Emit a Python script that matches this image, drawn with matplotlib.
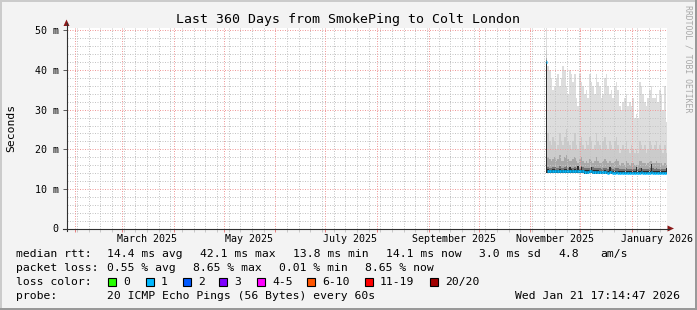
import datetime as dt
import matplotlib
matplotlib.use('Agg')
import matplotlib.pyplot as plt
from matplotlib.patches import Polygon, Rectangle
from matplotlib.lines import Line2D
import numpy as np

W, H = 697, 310
end = dt.datetime(2026, 1, 21, 17, 14, 47)
start = end - dt.timedelta(days=360)
data_start = dt.datetime(2025, 11, 10, 3, 0)

# daily smoke values (ms), Nov 10 2025 .. Jan 21 2026
ping_max = [52, 41, 40, 38, 35, 36, 38, 39, 36, 38,
            41, 40, 36, 34, 40, 39, 37, 39, 33, 31,
            39, 37, 36, 34, 35, 33, 39, 37, 36, 34,
            39, 37, 36, 33, 34, 38, 39, 36, 34, 35,
            33, 36, 37, 35, 31, 30, 32, 33, 34, 31,
            32, 31, 33, 28, 29, 28, 37, 36, 34, 32,
            31, 33, 35, 36, 33, 33, 34, 32, 35, 34,
            30, 36, 27]
ping_hi2 = [45, 24, 22, 21, 23, 22, 20, 21, 24, 22,
            21, 23, 25, 22, 21, 20, 22, 24, 21, 20,
            22, 23, 21, 20, 22, 21, 23, 22, 20, 21,
            24, 22, 21, 20, 22, 23, 21, 20, 22, 21,
            20, 22, 23, 21, 19, 20, 21, 20, 22, 20,
            19, 21, 20, 19, 20, 19, 22, 21, 20, 21,
            19, 20, 22, 21, 20, 21, 22, 20, 21, 20,
            19, 21, 19]
ping_hi3 = [43, 18, 17.5, 17, 17.5, 18, 17, 17.5, 18.5, 17,
            17, 18, 18.5, 17.5, 17, 17, 17.5, 18, 17, 16.5,
            17.5, 18, 17, 16.5, 17, 16.5, 17.5, 17, 16.5, 17,
            18, 17, 16.5, 16.5, 17, 17.5, 17, 16.5, 17, 16.5,
            16.5, 17, 17.5, 17, 16, 16.5, 16.5, 16, 17, 16.5,
            16, 16.5, 16.5, 16, 16, 16, 17, 17, 16.5, 16.5,
            16, 16.5, 17, 17, 16.5, 16.5, 17, 16.5, 16.5, 16.5,
            16, 16.5, 16]
ping_hi4 = [42.5, 15.6, 15.4, 15.3, 15.5, 15.6, 15.3, 15.4, 15.7, 15.3,
            15.3, 15.5, 15.8, 15.4, 15.6, 15.4, 15.3, 15.5, 15.3, 15.6,
            15.4, 15.8, 15.5, 15.2, 15.3, 15.2, 15.4, 15.3, 15.6, 15.2,
            15.4, 15.3, 15.2, 15.1, 15.2, 15.3, 15.2, 15.1, 15.6, 15.2,
            15.1, 15.2, 15.3, 15.2, 15.0, 15.1, 15.1, 15.0, 15.2, 15.1,
            15.0, 15.1, 15.1, 15.0, 15.3, 15.0, 15.2, 15.4, 15.1, 15.1,
            15.0, 15.1, 15.2, 15.6, 15.2, 15.1, 15.2, 15.1, 15.1, 15.1,
            15.0, 15.1, 15.3]
ping_hi5 = [42.1, 14.9, 14.8, 14.8, 14.9, 14.9, 14.8, 14.8, 15.0, 14.8,
            14.8, 14.9, 15.1, 14.8, 15.6, 14.9, 14.8, 14.9, 14.8, 15.8,
            14.9, 15.5, 14.8, 14.7, 14.7, 14.7, 14.8, 15.6, 14.7, 14.7,
            14.8, 14.7, 14.6, 14.6, 14.6, 14.7, 14.6, 14.6, 15.6, 14.6,
            14.5, 14.6, 14.6, 14.6, 14.5, 14.5, 14.5, 14.5, 14.6, 14.5,
            14.5, 14.5, 14.5, 14.5, 15.5, 14.5, 14.5, 15.4, 14.5, 14.5,
            14.5, 14.5, 14.6, 16.3, 14.6, 14.5, 14.5, 14.5, 14.5, 14.5,
            14.5, 14.5, 15.4]
median = [42.1, 14.5, 14.5, 14.4, 14.5, 14.5, 14.4, 14.4, 14.5, 14.4,
          14.4, 14.5, 14.6, 14.4, 14.5, 14.4, 14.4, 14.5, 14.4, 14.5,
          14.4, 14.5, 14.4, 14.3, 14.3, 14.3, 14.4, 14.4, 14.3, 14.3,
          14.3, 14.2, 14.2, 14.2, 14.2, 14.2, 14.2, 14.1, 14.3, 14.2,
          14.1, 14.1, 14.2, 14.1, 14.1, 14.1, 14.1, 14.0, 14.1, 14.1,
          14.0, 14.0, 14.1, 14.0, 14.1, 14.0, 14.1, 14.2, 14.1, 14.1,
          14.0, 14.0, 14.1, 14.3, 14.1, 14.1, 14.1, 14.1, 14.1, 14.0,
          14.0, 14.1, 14.1]
ping_min = [14.0, 13.9, 13.9, 13.9, 13.9, 13.9, 13.9, 13.9, 13.9, 13.9,
            13.9, 13.9, 13.9, 13.9, 13.9, 13.9, 13.9, 13.9, 13.9, 13.9,
            13.9, 13.9, 13.9, 13.8, 13.8, 13.8, 13.9, 13.9, 13.8, 13.8,
            13.8, 13.8, 13.8, 13.8, 13.8, 13.8, 13.8, 13.8, 13.8, 13.8,
            13.8, 13.8, 13.8, 13.8, 13.8, 13.8, 13.8, 13.7, 13.8, 13.8,
            13.7, 13.7, 13.8, 13.7, 13.8, 13.7, 13.8, 13.8, 13.8, 13.8,
            13.7, 13.7, 13.8, 13.8, 13.8, 13.8, 13.8, 13.8, 13.8, 13.7,
            13.7, 13.8, 13.8]

y_ticks = [0, 10, 20, 30, 40, 50]
y_labels = ['0', '10 m', '20 m', '30 m', '40 m', '50 m']
x_labels = ['March 2025', 'May 2025', 'July 2025', 'September 2025',
            'November 2025', 'January 2026']
x_label_dates = [dt.datetime(2025, 3, 16), dt.datetime(2025, 5, 16),
                 dt.datetime(2025, 7, 16), dt.datetime(2025, 9, 16),
                 dt.datetime(2025, 11, 16), dt.datetime(2026, 1, 16)]

loss_labels = ['0', '1', '2', '3', '4-5', '6-10', '11-19', '20/20']
loss_colors = ['#26ff00', '#00b8ff', '#0059ff', '#7e00ff', '#ff00ff',
               '#ff5500', '#ff0000', '#a00000']
loss_box_x = [108, 146, 183, 219, 257, 307, 365, 430]


def days(d):
    return (d - start).total_seconds() / 86400.0


plt.rcParams['font.family'] = ['DejaVu Sans Mono']

fig = plt.figure(figsize=(W / 100, H / 100), dpi=100, facecolor='#f3f3f3')
L, R, T, B = 66.5, 666.5, 28, 228.5


def fx(x):
    return x / W


def fy(y):
    return 1 - y / H


ax = fig.add_axes([fx(L), fy(B), (R - L) / W, (B - T) / H])
ax.set_facecolor('white')
ax.set_xlim(0, 360)
ax.set_ylim(0, 50 * (B - T) / (B - 30.5))
for s in ax.spines.values():
    s.set_visible(False)

n = len(median)
edges = [days(data_start + dt.timedelta(days=i)) for i in range(n)] + [360]
edges = np.array(edges)


def ext(v):
    return list(v) + [v[-1]]


layers = [(ping_max, '#dddddd'), (ping_hi2, '#cbcbcb'), (ping_hi3, '#a8a8a8'),
          (ping_hi4, '#747474'), (ping_hi5, '#2c2c2c')]
for vals, c in layers:
    ax.fill_between(edges, ext(ping_min), ext(vals), step='post',
                    color=c, lw=0, zorder=2, antialiased=False)

ax.hlines(median, edges[:-1], edges[1:], color='#00b8ff', lw=1.9, zorder=5)

# grid (dotted, drawn over the smoke like rrdtool does)
dot = (0, (1, 1.5))
for v in np.arange(0, 51, 2):
    if v % 10:
        ax.axhline(v, color='#c4c4c4', lw=0.72, ls=dot, zorder=3)
sundays = []
d = dt.datetime(2025, 1, 26)
while d < end:
    if d > start and d.day != 1:
        sundays.append(days(d))
    d += dt.timedelta(days=7)
for x in sundays:
    ax.axvline(x, color='#c4c4c4', lw=0.72, ls=dot, zorder=3)
months = [days(dt.datetime(2025 + (m - 1) // 12, (m - 1) % 12 + 1, 1))
          for m in range(2, 14)]
for x in months:
    ax.axvline(x, color='#f09a9a', lw=0.72, ls=dot, zorder=3)
for v in y_ticks[1:]:
    ax.axhline(v, color='#f09a9a', lw=0.72, ls=dot, zorder=3)

ax.set_xticks(months)
ax.set_xticks(sundays, minor=True)
ax.tick_params(axis='x', which='major', length=2, width=0.72, color='#e88080',
               labelbottom=False)
ax.tick_params(axis='x', which='minor', length=2, width=0.72, color='#c8c8c8')
ax.set_yticks(y_ticks, y_labels)
ax.tick_params(axis='y', which='major', length=3, width=0.72, color='#606060',
               pad=2.5, labelsize=7.2)

for lab, d in zip(x_labels, x_label_dates):
    ax.text(days(d), -0.05, lab, transform=ax.get_xaxis_transform(),
            ha='center', va='center', fontsize=7.2, clip_on=False)

# axes with arrows
fig.add_artist(Line2D([fx(L), fx(L)], [fy(231), fy(23)], color='#303030', lw=0.8))
fig.add_artist(Line2D([fx(63), fx(669)], [fy(B), fy(B)], color='#303030', lw=0.8))
fig.add_artist(Polygon([[fx(63.5), fy(26)], [fx(69.5), fy(26)], [fx(66.5), fy(19.5)]],
                       closed=True, color='#8b1a1a', lw=0))
fig.add_artist(Polygon([[fx(667.5), fy(225.5)], [fx(667.5), fy(231.5)], [fx(674), fy(B)]],
                       closed=True, color='#8b1a1a', lw=0))

# frame
fig.add_artist(Rectangle((0, fy(2)), 1, 2 / H, transform=fig.transFigure,
                         color='#cbcbcb', lw=0))
fig.add_artist(Rectangle((0, 0), 2 / W, 1, transform=fig.transFigure,
                         color='#cbcbcb', lw=0))
fig.add_artist(Rectangle((0, 0), 1, 2 / H, transform=fig.transFigure,
                         color='#999999', lw=0))
fig.add_artist(Rectangle((1 - 2 / W, 0), 2 / W, 1, transform=fig.transFigure,
                         color='#999999', lw=0))

fig.text(fx(348), fy(19), 'Last 360 Days from SmokePing to Colt London',
         ha='center', va='center', fontsize=9.5)
fig.text(fx(11), fy(128), 'Seconds', rotation=90, ha='center', va='center',
         fontsize=8.2)
fig.text(fx(688), fy(5), 'RRDTOOL / TOBI OETIKER', rotation=270, ha='center',
         va='top', fontsize=5.9, color='#a8a8a8')

fs = 8.2
fig.text(fx(16), fy(254), 'median rtt:', va='center', fontsize=fs)
for x, s in [(107, '14.4 ms avg'), (200, '42.1 ms max'), (293, '13.8 ms min'),
             (386, '14.1 ms now'), (479, '3.0 ms sd'), (558, '4.8'), (600, 'am/s')]:
    fig.text(fx(x), fy(254), s, va='center', fontsize=fs)
fig.text(fx(16), fy(268), 'packet loss:', va='center', fontsize=fs)
for x, s in [(107, '0.55 % avg'), (193, '8.65 % max'), (279, '0.01 % min'),
             (365, '8.65 % now')]:
    fig.text(fx(x), fy(268), s, va='center', fontsize=fs)
fig.text(fx(16), fy(282), 'loss color:', va='center', fontsize=fs)
for x, lab, c in zip(loss_box_x, loss_labels, loss_colors):
    fig.add_artist(Rectangle((fx(x), fy(286)), 8 / W, 8 / H, transform=fig.transFigure,
                             facecolor=c, edgecolor='black', lw=0.8))
    fig.text(fx(x + 15), fy(282), lab, va='center', fontsize=fs)
fig.text(fx(16), fy(296), 'probe:', va='center', fontsize=fs)
fig.text(fx(107), fy(296), '20 ICMP Echo Pings (56 Bytes) every 60s', va='center',
         fontsize=fs)
fig.text(fx(680), fy(296), 'Wed Jan 21 17:14:47 2026', va='center', ha='right',
         fontsize=fs)

fig.savefig('out.png', dpi=100, facecolor=fig.get_facecolor())
